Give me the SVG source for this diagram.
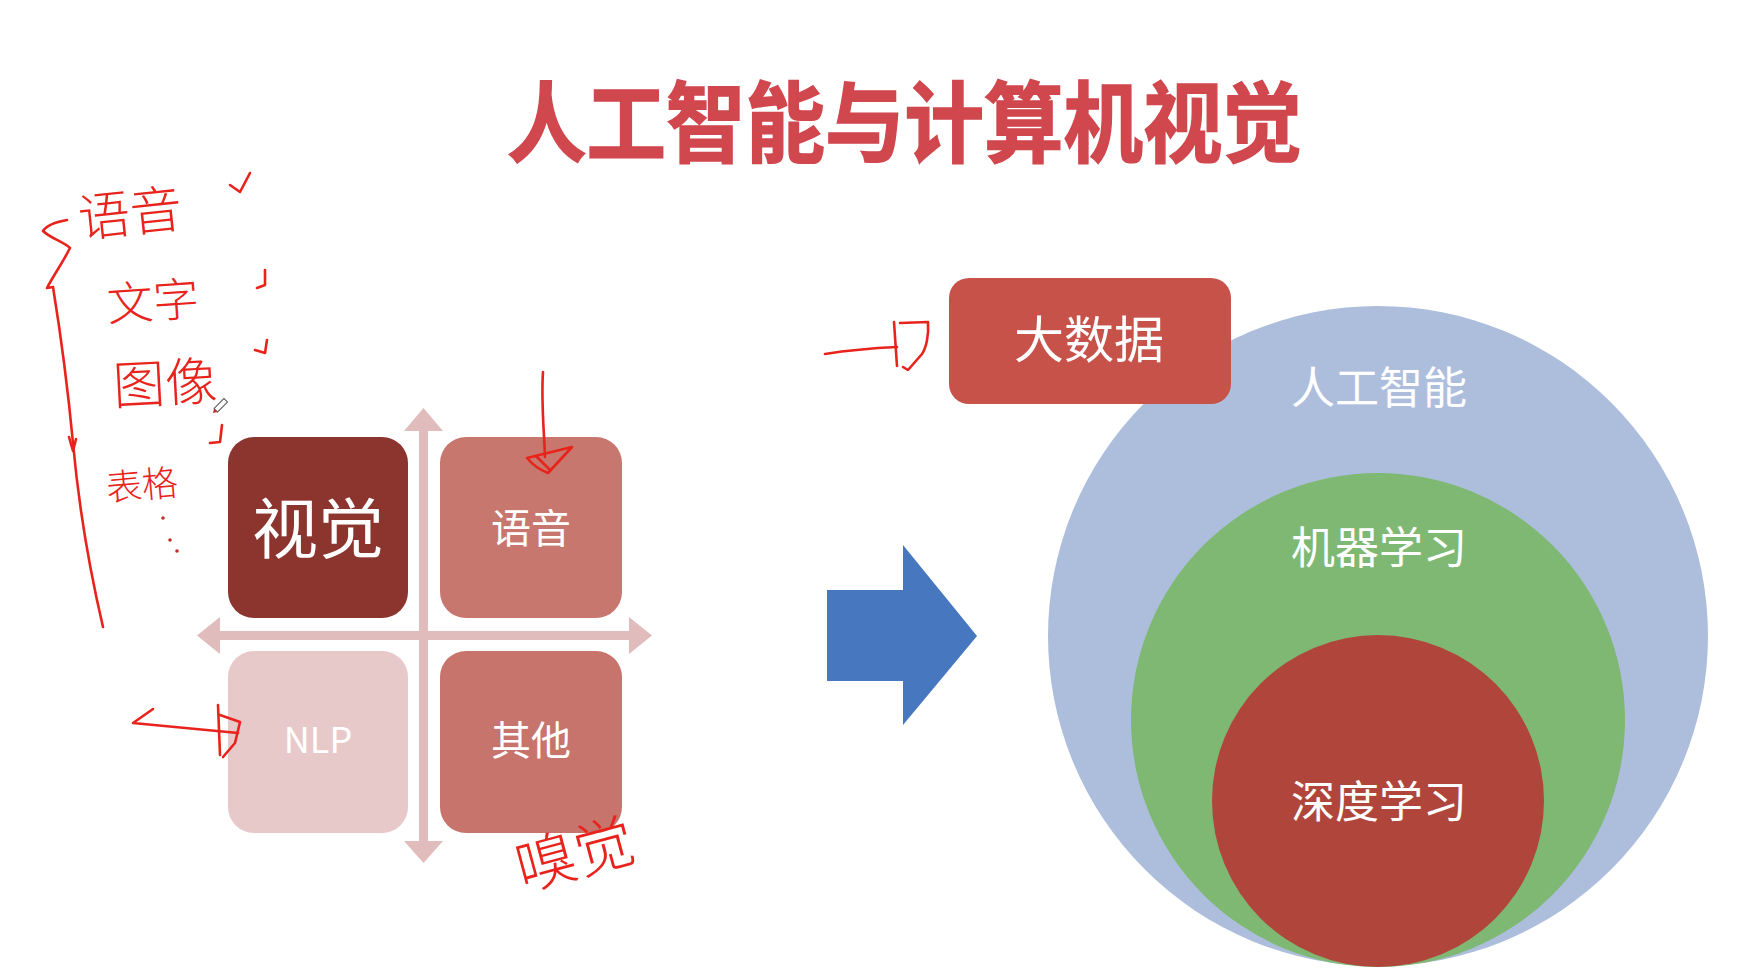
<svg xmlns="http://www.w3.org/2000/svg" width="1744" height="970" viewBox="0 0 1744 970">
  <defs>
    <style>
      .cjk { font-family: "Noto Sans CJK SC", "Liberation Sans", sans-serif; }
      .title { font-family: "Noto Sans CJK SC", "Liberation Sans", sans-serif; font-weight: 700; fill: #d0474d; stroke: #d0474d; stroke-width: 1.5; }
      .label { font-family: "Noto Sans CJK SC", "Liberation Sans", sans-serif; fill: #ffffff; text-anchor: middle; }
      .ink { fill: none; stroke: #e8231b; stroke-width: 2.6; stroke-linecap: round; stroke-linejoin: round; }
      .hand { font-family: "Noto Sans CJK SC", sans-serif; fill: #e8231b; text-anchor: middle; font-weight: 300; }
      .quad { stroke: none; }
      .axis { fill: #e0bcbc; }
    </style>
  </defs>

  <rect x="0" y="0" width="1744" height="970" fill="#ffffff"/>

  <!-- heading -->
  <text id="title" class="title" x="507" y="155" font-size="88" textLength="795" lengthAdjust="spacingAndGlyphs">人工智能与计算机视觉</text>

  <!-- quadrant axes -->
  <g id="axes" class="axis">
    <rect x="419" y="428" width="9" height="416"/>
    <polygon points="423.5,408 443,431 404,431"/>
    <polygon points="423.5,863 443,841 404,841"/>
    <rect x="218" y="631" width="413" height="9"/>
    <polygon points="197,635.5 220,617 220,654"/>
    <polygon points="652,635.5 629,617 629,654"/>
  </g>

  <!-- quadrant tiles -->
  <g id="node-vision">
    <rect class="quad" x="228" y="437" width="180" height="181" rx="26" fill="#8c342e"/>
    <text class="label" x="318" y="553" font-size="66">视觉</text>
  </g>
  <g id="node-speech">
    <rect class="quad" x="440" y="437" width="182" height="181" rx="26" fill="#c8776e"/>
    <text class="label" x="531" y="543" font-size="40">语音</text>
  </g>
  <g id="node-nlp">
    <rect class="quad" x="228" y="651" width="180" height="182" rx="26" fill="#e8c9c9"/>
    <text class="label" x="318" y="753" font-size="36" font-family="'Open Sans', 'Liberation Sans', sans-serif">NLP</text>
  </g>
  <g id="node-other">
    <rect class="quad" x="440" y="651" width="182" height="182" rx="26" fill="#c6746c"/>
    <text class="label" x="531" y="755" font-size="40">其他</text>
  </g>

  <!-- block arrow -->
  <g id="node-arrow">
    <polygon points="827,590 903,590 903,545 977,636 903,725 903,681 827,681" fill="#4677bf"/>
  </g>

  <!-- nested circles -->
  <g id="node-ai">
    <circle cx="1378" cy="636" r="330" fill="#adbedd"/>
    <text class="label" x="1379" y="404" font-size="44">人工智能</text>
  </g>
  <g id="node-ml">
    <circle cx="1378" cy="720" r="247" fill="#7fb873"/>
    <text class="label" x="1379" y="564" font-size="44">机器学习</text>
  </g>
  <g id="node-dl">
    <circle cx="1378" cy="801" r="166" fill="#b0463b"/>
    <text class="label" x="1379" y="818" font-size="44">深度学习</text>
  </g>

  <g id="node-bigdata">
    <rect x="949" y="278" width="282" height="126" rx="20" fill="#c65249"/>
    <text class="label" x="1089" y="358" font-size="50">大数据</text>
  </g>

  <!-- pen annotations -->
  <g id="connectors">
    <!-- brace along the left list -->
    <path class="ink" d="M67,220 C56,222 46,226 43,231 C50,238 64,242 70,248 C63,262 52,278 47,288 L53,287 C60,330 68,390 73,443 C80,520 92,580 103,627"/>
    <path class="ink" d="M69,437 L73,451 L76,439"/>
    <!-- ticks -->
    <path class="ink" d="M230,185 L240,192 L250,173"/>
    <path class="ink" d="M257,288 L265,285 L265,270"/>
    <path class="ink" d="M255,350 L265,353 L267,340"/>
    <path class="ink" d="M210,443 L220,442 L222,425"/>
    <!-- dots -->
    <circle cx="163" cy="518" r="1.8" fill="#c0302a"/>
    <circle cx="170" cy="540" r="1.8" fill="#c0302a"/>
    <circle cx="177" cy="551" r="1.8" fill="#c0302a"/>
    <!-- arrow into speech tile -->
    <path class="ink" d="M543,372 C541,400 544,430 545,457"/>
    <path class="ink" d="M527,458 L572,447 L548,473 C540,470 532,464 527,458 Z"/>
    <path class="ink" d="M536,456 L550,470"/>
    <!-- arrow into NLP tile -->
    <path class="ink" d="M153,709 L133,723 L238,733"/>
    <path class="ink" d="M218,705 L220,755"/>
    <path class="ink" d="M220,715 L240,722 L235,743 L223,757"/>
    <!-- arrow toward big data -->
    <path class="ink" d="M825,354 C850,350 875,348 897,347"/>
    <path class="ink" d="M894,322 L897,366"/>
    <path class="ink" d="M900,323 L928,322 C929,336 926,348 922,354 L908,370 L903,367"/>
    <!-- pen cursor -->
    <g transform="translate(213,413) rotate(-45)">
      <rect x="4" y="-2.5" width="14" height="5" fill="#ffffff" stroke="#555555" stroke-width="1"/>
      <polygon points="0,0 4,-2.5 4,2.5" fill="#c0302a"/>
    </g>
  </g>

  <!-- handwritten notes -->
  <g id="notes">
    <text class="hand" x="130" y="232" font-size="52" transform="rotate(-6 130 212)">语音</text>
    <text class="hand" x="153" y="318" font-size="46" transform="rotate(-4 153 300)">文字</text>
    <text class="hand" x="165" y="402" font-size="52" transform="rotate(-3 165 383)">图像</text>
    <text class="hand" x="142" y="498" font-size="36" transform="rotate(-5 142 485)">表格</text>
    <text class="hand" x="575" y="876" font-size="60" transform="rotate(-15 575 855)">嗅觉</text>
  </g>
</svg>
